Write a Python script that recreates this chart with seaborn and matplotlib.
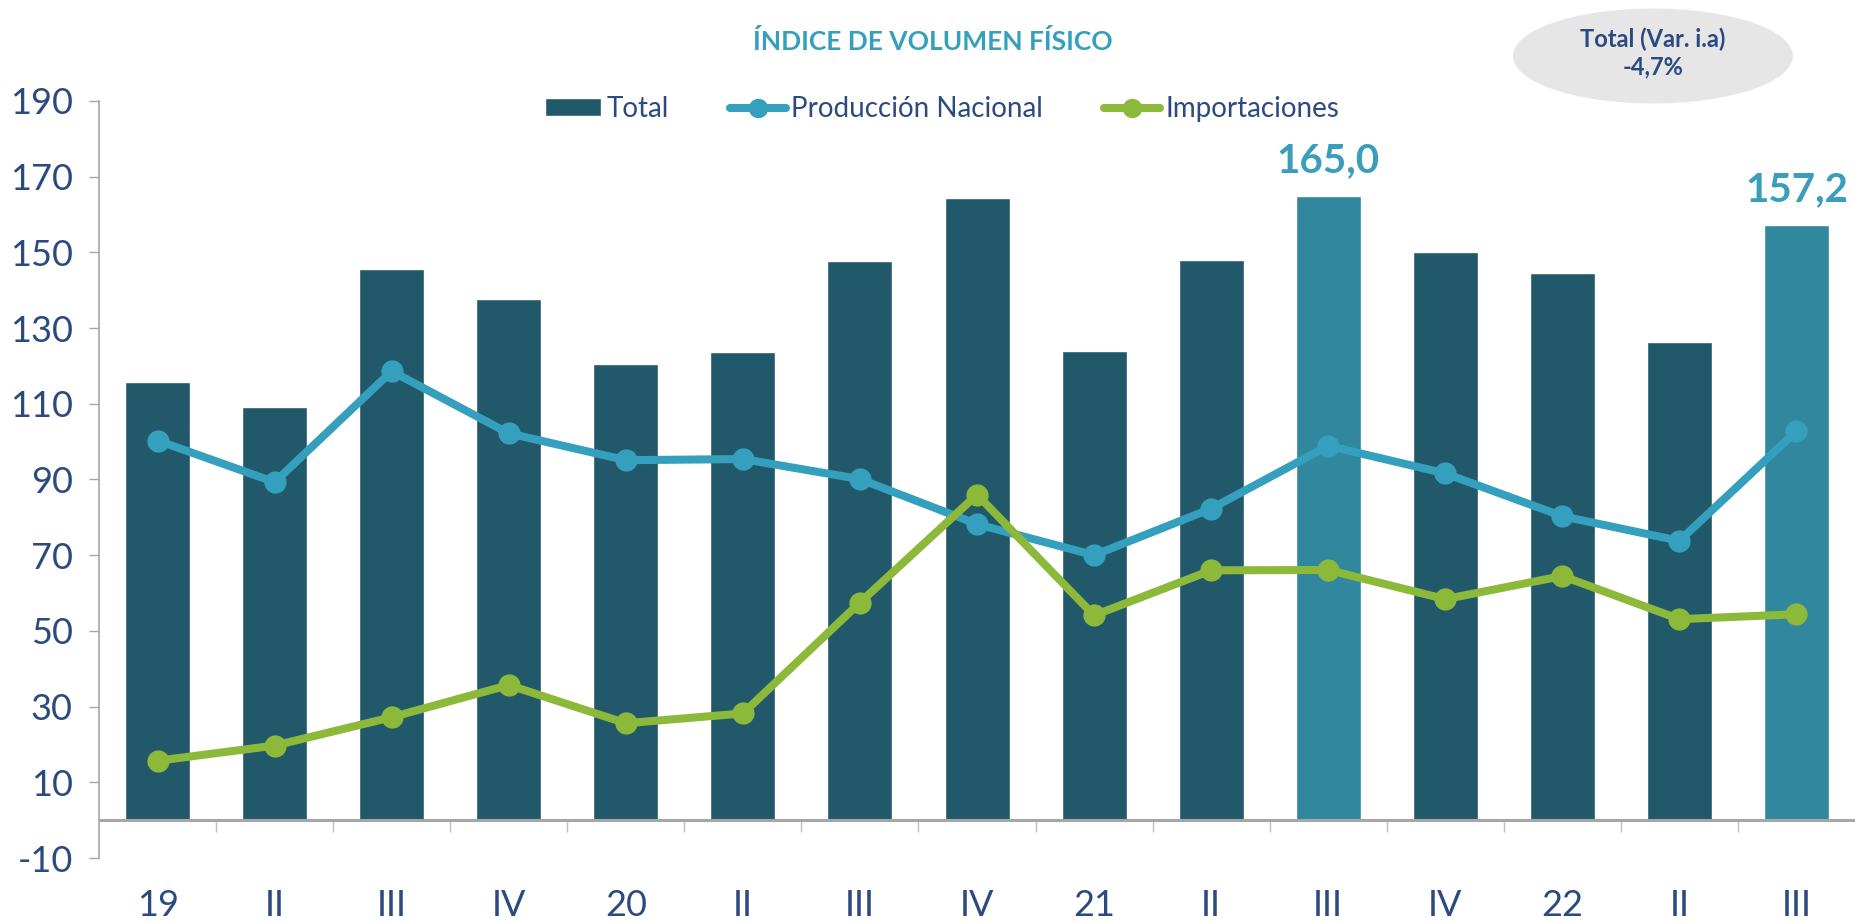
import matplotlib
matplotlib.use("Agg")
import matplotlib.pyplot as plt
from matplotlib.patches import Ellipse, Patch
from matplotlib.lines import Line2D
import numpy as np
import pandas as pd
import seaborn as sns

# trimestres 2019-III a 2022-III
periodos = ["19", "II", "III", "IV", "20", "II", "III", "IV", "21", "II", "III", "IV", "22", "II", "III"]
total = [115.7, 109.1, 145.5, 137.7, 120.6, 123.6, 147.6, 164.3, 123.9, 148.0, 165.0, 150.1, 144.5, 126.4, 157.2]
produccion = [100.3, 89.3, 118.6, 102.2, 95.1, 95.4, 90.1, 78.2, 70.0, 82.3, 98.9, 91.6, 80.3, 73.8, 102.8]
importaciones = [15.7, 19.7, 27.2, 35.7, 25.6, 28.2, 57.5, 86.0, 54.1, 66.0, 66.1, 58.4, 64.5, 53.1, 54.4]
destacados = [10, 14]
yticks = list(range(-10, 191, 20))

c_bar = "#22596A"
c_bar_hi = "#31879E"
c_prod = "#35A0BD"
c_imp = "#8DB93A"
c_text = "#2B4A80"
c_grey = "#A6A6A6"

sns.set_theme(style="white")
plt.rcParams["font.family"] = ["Lato", "DejaVu Sans"]
plt.rcParams["axes.unicode_minus"] = False

n = len(periodos)
df = pd.DataFrame({
    "pos": range(n),
    "total": total,
    "produccion": produccion,
    "importaciones": importaciones,
    "grupo": ["hi" if i in destacados else "base" for i in range(n)],
})

fig = plt.figure(figsize=(18.55, 9.23), dpi=100)
ax = fig.add_axes([0.0534, 0.0704, 0.9466, 0.8202])

sns.barplot(data=df, x="pos", y="total", hue="grupo", palette={"base": c_bar, "hi": c_bar_hi},
            width=0.555, dodge=False, saturation=1, legend=False, ax=ax, zorder=2)
sns.lineplot(data=df, x="pos", y="produccion", color=c_prod, linewidth=5.8, marker="o",
             markersize=16, markeredgewidth=0, ax=ax, zorder=3)
sns.lineplot(data=df, x="pos", y="importaciones", color=c_imp, linewidth=5.8, marker="o",
             markersize=16, markeredgewidth=0, ax=ax, zorder=4)

for i in destacados:
    ax.annotate(f"{total[i]:.1f}".replace(".", ","), (i, total[i]), xytext=(0, 12),
                textcoords="offset points", ha="center", va="bottom",
                fontsize=29, color="#3A9DBC", fontweight="bold")

ax.set_xlim(-0.5, n - 0.5)
ax.set_ylim(-10, 190)
ax.set_yticks(yticks)
ax.set_xticks(range(n))
ax.set_xticklabels(periodos)
ax.set_xlabel("")
ax.set_ylabel("")

for s in ["top", "right", "bottom"]:
    ax.spines[s].set_visible(False)
ax.spines["left"].set_color(c_grey)
ax.spines["left"].set_linewidth(1.2)

ax.axhline(0, color=c_grey, linewidth=2.2, zorder=5)
ax.vlines(np.arange(n - 1) + 0.5, -3, 0, color="#BFBFBF", linewidth=1, zorder=1)

ax.tick_params(axis="y", direction="out", length=7, width=1, color=c_grey, pad=12,
               labelsize=26, labelcolor=c_text, left=True)
ax.tick_params(axis="x", length=0, pad=22, labelsize=26, labelcolor=c_text)

handles = [
    Patch(facecolor=c_bar),
    Line2D([0], [0], color=c_prod, lw=5.8, marker="o", ms=14, mew=0),
    Line2D([0], [0], color=c_imp, lw=5.8, marker="o", ms=14, mew=0),
]
fig.legend(handles, ["Total", "Producción Nacional", "Importaciones"], loc="center",
           bbox_to_anchor=(0.508, 0.882), ncol=3, frameon=False, fontsize=20,
           handlelength=2.0, handleheight=0.6, handletextpad=0.2, columnspacing=2.2,
           labelcolor=c_text)

fig.text(0.503, 1 - 41 / 923, "ÍNDICE DE VOLUMEN FÍSICO", ha="center", va="center",
         fontsize=19, fontweight="bold", color=c_prod)

fig.add_artist(Ellipse((1653 / 1855, 1 - 56 / 923), 280 / 1855, 95 / 923,
                       transform=fig.transFigure, facecolor="#E6E6E6", edgecolor="none"))
fig.text(1653 / 1855, 1 - 39 / 923, "Total (Var. i.a)", ha="center", va="center",
         fontsize=17, fontweight="bold", color=c_text)
fig.text(1653 / 1855, 1 - 67 / 923, "-4,7%", ha="center", va="center",
         fontsize=17, fontweight="bold", color=c_text)

fig.savefig("out.png", dpi=100)
